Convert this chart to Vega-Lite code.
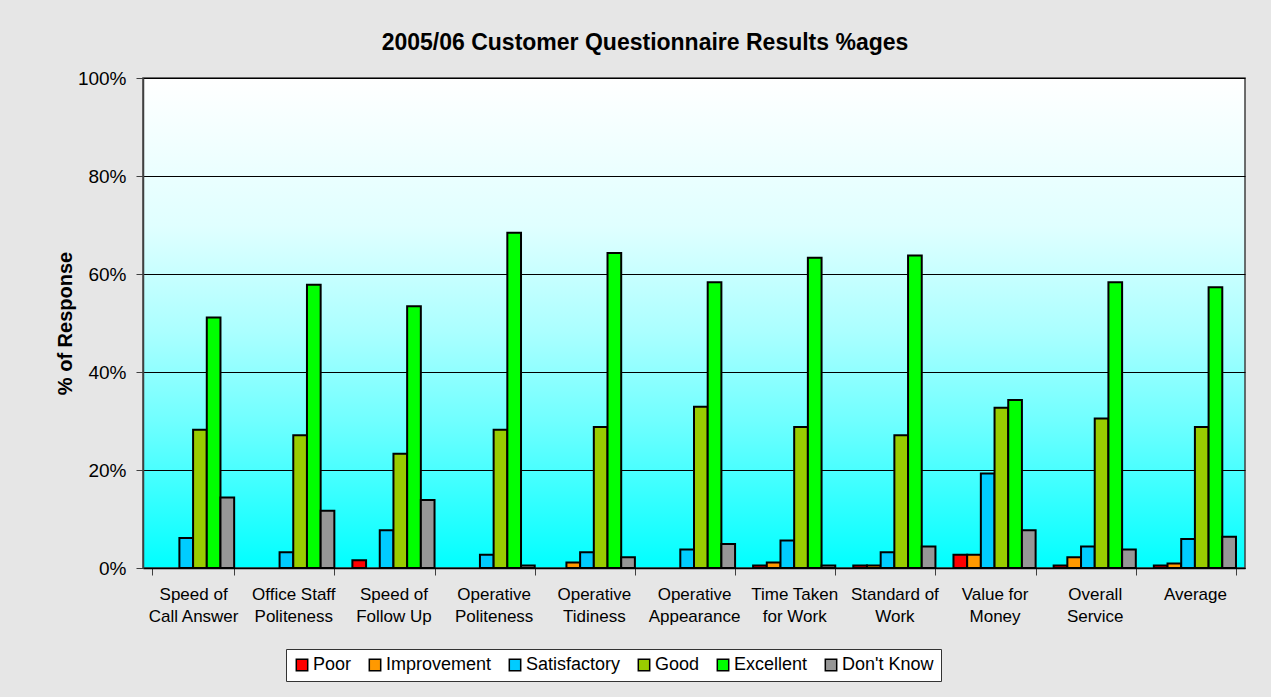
{
  "$schema": "https://vega.github.io/schema/vega-lite/v6.json",
  "width": 1102,
  "height": 490,
  "autosize": {"type": "none"},
  "padding": {"left": 143, "top": 78, "right": 26, "bottom": 129},
  "background": "#e6e6e6",
  "title": {
    "text": "2005/06 Customer Questionnaire Results %ages",
    "font": "Liberation Sans",
    "fontSize": 23,
    "fontWeight": "bold",
    "color": "#000000",
    "anchor": "middle",
    "dx": -49,
    "offset": 14
  },
  "config": {
    "view": {
      "stroke": "#404040",
      "strokeWidth": 1.5,
      "fill": {
        "gradient": "linear",
        "x1": 0, "y1": 0, "x2": 0, "y2": 1,
        "stops": [
          {"offset": 0, "color": "#ffffff"},
          {"offset": 0.3, "color": "#e0ffff"},
          {"offset": 0.52, "color": "#aaffff"},
          {"offset": 0.7, "color": "#70ffff"},
          {"offset": 1, "color": "#00ffff"}
        ]
      }
    },
    "font": "Liberation Sans"
  },
  "data": {
    "values": [
      {"question": "Speed of Call Answer", "rating": "Satisfactory", "pct": 6.1},
      {"question": "Speed of Call Answer", "rating": "Good", "pct": 28.2},
      {"question": "Speed of Call Answer", "rating": "Excellent", "pct": 51.1},
      {"question": "Speed of Call Answer", "rating": "Don't Know", "pct": 14.4},
      {"question": "Office Staff Politeness", "rating": "Satisfactory", "pct": 3.2},
      {"question": "Office Staff Politeness", "rating": "Good", "pct": 27.1},
      {"question": "Office Staff Politeness", "rating": "Excellent", "pct": 57.8},
      {"question": "Office Staff Politeness", "rating": "Don't Know", "pct": 11.7},
      {"question": "Speed of Follow Up", "rating": "Poor", "pct": 1.6},
      {"question": "Speed of Follow Up", "rating": "Satisfactory", "pct": 7.7},
      {"question": "Speed of Follow Up", "rating": "Good", "pct": 23.3},
      {"question": "Speed of Follow Up", "rating": "Excellent", "pct": 53.4},
      {"question": "Speed of Follow Up", "rating": "Don't Know", "pct": 13.9},
      {"question": "Operative Politeness", "rating": "Satisfactory", "pct": 2.7},
      {"question": "Operative Politeness", "rating": "Good", "pct": 28.2},
      {"question": "Operative Politeness", "rating": "Excellent", "pct": 68.4},
      {"question": "Operative Politeness", "rating": "Don't Know", "pct": 0.5},
      {"question": "Operative Tidiness", "rating": "Improvement", "pct": 1.1},
      {"question": "Operative Tidiness", "rating": "Satisfactory", "pct": 3.2},
      {"question": "Operative Tidiness", "rating": "Good", "pct": 28.8},
      {"question": "Operative Tidiness", "rating": "Excellent", "pct": 64.3},
      {"question": "Operative Tidiness", "rating": "Don't Know", "pct": 2.2},
      {"question": "Operative Appearance", "rating": "Satisfactory", "pct": 3.8},
      {"question": "Operative Appearance", "rating": "Good", "pct": 32.9},
      {"question": "Operative Appearance", "rating": "Excellent", "pct": 58.3},
      {"question": "Operative Appearance", "rating": "Don't Know", "pct": 4.9},
      {"question": "Time Taken for Work", "rating": "Poor", "pct": 0.5},
      {"question": "Time Taken for Work", "rating": "Improvement", "pct": 1.1},
      {"question": "Time Taken for Work", "rating": "Satisfactory", "pct": 5.6},
      {"question": "Time Taken for Work", "rating": "Good", "pct": 28.8},
      {"question": "Time Taken for Work", "rating": "Excellent", "pct": 63.3},
      {"question": "Time Taken for Work", "rating": "Don't Know", "pct": 0.5},
      {"question": "Standard of Work", "rating": "Poor", "pct": 0.5},
      {"question": "Standard of Work", "rating": "Improvement", "pct": 0.5},
      {"question": "Standard of Work", "rating": "Satisfactory", "pct": 3.2},
      {"question": "Standard of Work", "rating": "Good", "pct": 27.1},
      {"question": "Standard of Work", "rating": "Excellent", "pct": 63.8},
      {"question": "Standard of Work", "rating": "Don't Know", "pct": 4.4},
      {"question": "Value for Money", "rating": "Poor", "pct": 2.7},
      {"question": "Value for Money", "rating": "Improvement", "pct": 2.7},
      {"question": "Value for Money", "rating": "Satisfactory", "pct": 19.3},
      {"question": "Value for Money", "rating": "Good", "pct": 32.7},
      {"question": "Value for Money", "rating": "Excellent", "pct": 34.3},
      {"question": "Value for Money", "rating": "Don't Know", "pct": 7.7},
      {"question": "Overall Service", "rating": "Poor", "pct": 0.5},
      {"question": "Overall Service", "rating": "Improvement", "pct": 2.2},
      {"question": "Overall Service", "rating": "Satisfactory", "pct": 4.4},
      {"question": "Overall Service", "rating": "Good", "pct": 30.5},
      {"question": "Overall Service", "rating": "Excellent", "pct": 58.3},
      {"question": "Overall Service", "rating": "Don't Know", "pct": 3.8},
      {"question": "Average", "rating": "Poor", "pct": 0.5},
      {"question": "Average", "rating": "Improvement", "pct": 0.9},
      {"question": "Average", "rating": "Satisfactory", "pct": 5.9},
      {"question": "Average", "rating": "Good", "pct": 28.8},
      {"question": "Average", "rating": "Excellent", "pct": 57.3},
      {"question": "Average", "rating": "Don't Know", "pct": 6.4}
    ]
  },
  "mark": {"type": "bar", "stroke": "#000000", "strokeWidth": 2},
  "encoding": {
    "x": {
      "field": "question",
      "type": "nominal",
      "sort": ["Speed of Call Answer", "Office Staff Politeness", "Speed of Follow Up", "Operative Politeness", "Operative Tidiness", "Operative Appearance", "Time Taken for Work", "Standard of Work", "Value for Money", "Overall Service", "Average"],
      "scale": {"paddingInner": 0.18, "paddingOuter": 0.09},
      "axis": {
        "title": null,
        "labelAngle": 0,
        "labelFont": "Liberation Sans",
        "labelFontSize": 17,
        "labelColor": "#000000",
        "labelLineHeight": 22,
        "labelPadding": 11,
        "tickSize": 7,
        "tickBand": "extent",
        "tickColor": "#404040",
        "domainColor": "#000000",
        "domainWidth": 1.5,
        "labelExpr": "({'Speed of Call Answer': ['Speed of', 'Call Answer'], 'Office Staff Politeness': ['Office Staff', 'Politeness'], 'Speed of Follow Up': ['Speed of', 'Follow Up'], 'Operative Politeness': ['Operative', 'Politeness'], 'Operative Tidiness': ['Operative', 'Tidiness'], 'Operative Appearance': ['Operative', 'Appearance'], 'Time Taken for Work': ['Time Taken', 'for Work'], 'Standard of Work': ['Standard of', 'Work'], 'Value for Money': ['Value for', 'Money'], 'Overall Service': ['Overall', 'Service'], 'Average': ['Average']})[datum.label]"
      }
    },
    "xOffset": {
      "field": "rating",
      "type": "nominal",
      "sort": ["Poor", "Improvement", "Satisfactory", "Good", "Excellent", "Don't Know"],
      "scale": {"domain": ["Poor", "Improvement", "Satisfactory", "Good", "Excellent", "Don't Know"], "paddingInner": 0, "paddingOuter": 0}
    },
    "y": {
      "field": "pct",
      "type": "quantitative",
      "scale": {"domain": [0, 100], "nice": false},
      "axis": {
        "title": "% of Response",
        "titleFont": "Liberation Sans",
        "titleFontSize": 20,
        "titleFontWeight": "bold",
        "titleColor": "#000000",
        "titlePadding": 2,
        "values": [0, 20, 40, 60, 80, 100],
        "labelExpr": "datum.value + '%'",
        "labelFont": "Liberation Sans",
        "labelFontSize": 19,
        "labelColor": "#000000",
        "labelPadding": 10,
        "tickSize": 7,
        "tickColor": "#404040",
        "domainColor": "#404040",
        "domainWidth": 1.5,
        "grid": true,
        "gridColor": "#000000",
        "gridWidth": 1
      }
    },
    "fill": {
      "field": "rating",
      "type": "nominal",
      "sort": ["Poor", "Improvement", "Satisfactory", "Good", "Excellent", "Don't Know"],
      "scale": {
        "domain": ["Poor", "Improvement", "Satisfactory", "Good", "Excellent", "Don't Know"],
        "range": ["#ff0000", "#ff9900", "#00ccff", "#99cc00", "#00ff00", "#969696"]
      },
      "legend": {
        "title": null,
        "orient": "none",
        "legendX": 143,
        "legendY": 571,
        "direction": "horizontal",
        "columns": 6,
        "symbolType": "square",
        "symbolSize": 130,
        "symbolStrokeColor": "#000000",
        "symbolStrokeWidth": 1.5,
        "symbolOpacity": 1,
        "labelFont": "Liberation Sans",
        "labelFontSize": 18,
        "labelColor": "#000000",
        "labelOffset": 2,
        "columnPadding": 14,
        "padding": 7,
        "fillColor": "#ffffff",
        "strokeColor": "#333333"
      }
    }
  }
}
